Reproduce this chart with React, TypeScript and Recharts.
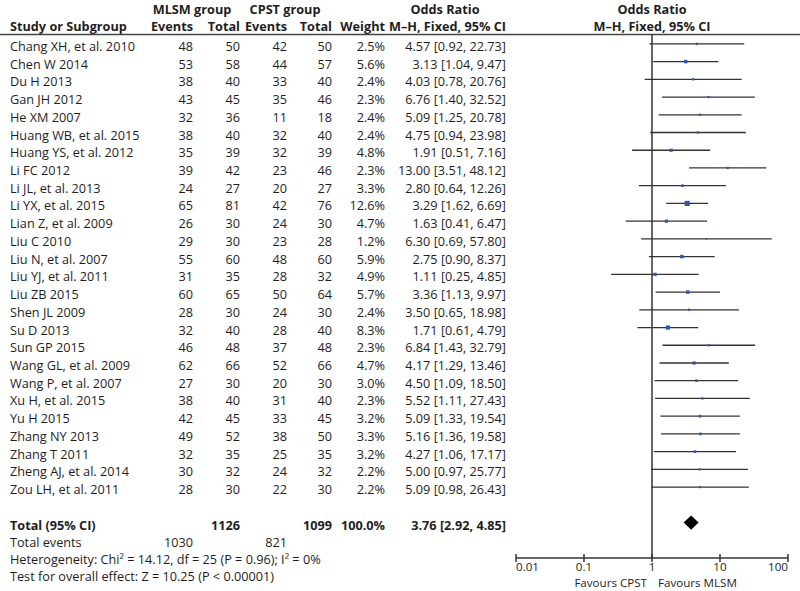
import React from "react";
import { ScatterChart, Scatter, XAxis, YAxis, ErrorBar, ReferenceLine, ReferenceArea } from "recharts";

const FONT = "'Open Sans', 'DejaVu Sans', sans-serif";
const FS = 12.7;
const FS_AXIS = 11.6;
const TXT = "#1e1e1e";

const studies = ["Chang XH, et al. 2010","Chen W 2014","Du H 2013","Gan JH 2012","He XM 2007","Huang WB, et al. 2015","Huang YS, et al. 2012","Li FC 2012","Li JL, et al. 2013","Li YX, et al. 2015","Lian Z, et al. 2009","Liu C 2010","Liu N, et al. 2007","Liu YJ, et al. 2011","Liu ZB 2015","Shen JL 2009","Su D 2013","Sun GP 2015","Wang GL, et al. 2009","Wang P, et al. 2007","Xu H, et al. 2015","Yu H 2015","Zhang NY 2013","Zhang T 2011","Zheng AJ, et al. 2014","Zou LH, et al. 2011"];
const mlsmEvents = [48,53,38,43,32,38,35,39,24,65,26,29,55,31,60,28,32,46,62,27,38,42,49,32,30,28];
const mlsmTotal = [50,58,40,45,36,40,39,42,27,81,30,30,60,35,65,30,40,48,66,30,40,45,52,35,32,30];
const cpstEvents = [42,44,33,35,11,32,32,23,20,42,24,23,48,28,50,24,28,37,52,20,31,33,38,25,24,22];
const cpstTotal = [50,57,40,46,18,40,39,46,27,76,30,28,60,32,64,30,40,48,66,30,40,45,50,35,32,30];
const weights = [2.5,5.6,2.4,2.3,2.4,2.4,4.8,2.3,3.3,12.6,4.7,1.2,5.9,4.9,5.7,2.4,8.3,2.3,4.7,3.0,2.3,3.2,3.3,3.2,2.2,2.2];
const oddsRatio = [4.57,3.13,4.03,6.76,5.09,4.75,1.91,13.00,2.80,3.29,1.63,6.30,2.75,1.11,3.36,3.50,1.71,6.84,4.17,4.50,5.52,5.09,5.16,4.27,5.00,5.09];
const ciLow = [0.92,1.04,0.78,1.40,1.25,0.94,0.51,3.51,0.64,1.62,0.41,0.69,0.90,0.25,1.13,0.65,0.61,1.43,1.29,1.09,1.11,1.33,1.36,1.06,0.97,0.98];
const ciHigh = [22.73,9.47,20.76,32.52,20.78,23.98,7.16,48.12,12.26,6.69,6.47,57.80,8.37,4.85,9.97,18.98,4.79,32.79,13.46,18.50,27.43,19.54,19.58,17.17,25.77,26.43];

const totalLabel = "Total (95% CI)";
const totalMlsmN = 1126;
const totalCpstN = 1099;
const totalWeight = "100.0%";
const totalOR = 3.76;
const totalLow = 2.92;
const totalHigh = 4.85;
const totalMlsmEvents = 1030;
const totalCpstEvents = 821;
const heterogeneityText = "Heterogeneity: Chi\u00b2 = 14.12, df = 25 (P = 0.96); I\u00b2 = 0%";
const overallText = "Test for overall effect: Z = 10.25 (P < 0.00001)";
const xTicks = [0.01, 0.1, 1, 10, 100];
const xTickLabels = ["0.01", "0.1", "1", "10", "100"];

const TOTAL_ROW = studies.length + 2;

const fmt = (v: number) => v.toFixed(2);
const ciText = (o: number, l: number, h: number) => `${fmt(o)} [${fmt(l)}, ${fmt(h)}]`;

const studyData = studies.map((name, i) => ({
  name,
  y: i + 1,
  x: oddsRatio[i],
  w: weights[i],
  err: [oddsRatio[i] - ciLow[i], ciHigh[i] - oddsRatio[i]],
}));

type Row = { name: string; me?: number; mt: number; ce?: number; ct: number; w: string; ci: string; bold?: boolean };
const rows: Record<number, Row> = {};
studies.forEach((name, i) => {
  rows[i + 1] = {
    name,
    me: mlsmEvents[i],
    mt: mlsmTotal[i],
    ce: cpstEvents[i],
    ct: cpstTotal[i],
    w: weights[i].toFixed(1) + "%",
    ci: ciText(oddsRatio[i], ciLow[i], ciHigh[i]),
  };
});
rows[TOTAL_ROW] = { name: totalLabel, mt: totalMlsmN, ct: totalCpstN, w: totalWeight, ci: ciText(totalOR, totalLow, totalHigh), bold: true };
const rowTicks = Object.keys(rows).map(Number);

const COL = { name: 10, me: 193, mt: 240, ce: 287, ct: 332, w: 385, ci: 506 };

const RowTick = (props: any) => {
  const { y, payload } = props;
  const r = rows[payload.value];
  if (!r) return null;
  const ty = y + 7;
  const fw = r.bold ? "bold" : "normal";
  return (
    <g fontFamily={FONT} fontSize={FS} fill={TXT} fontWeight={fw}>
      <text x={COL.name} y={ty}>{r.name}</text>
      {r.me !== undefined && <text x={COL.me} y={ty} textAnchor="end">{r.me}</text>}
      <text x={COL.mt} y={ty} textAnchor="end">{r.mt}</text>
      {r.ce !== undefined && <text x={COL.ce} y={ty} textAnchor="end">{r.ce}</text>}
      <text x={COL.ct} y={ty} textAnchor="end">{r.ct}</text>
      <text x={COL.w} y={ty} textAnchor="end">{r.w}</text>
      <text x={COL.ci} y={ty} textAnchor="end">{r.ci}</text>
    </g>
  );
};

const XTick = (props: any) => {
  const { x, y, payload, index } = props;
  const n = xTicks.length;
  const anchor = index === 0 ? "start" : index === n - 1 ? "end" : "middle";
  const label = xTickLabels[xTicks.indexOf(payload.value)] ?? String(payload.value);
  return (
    <g>
      <line x1={x} x2={x} y1={y - 4} y2={y + 4} stroke="#333" strokeWidth={1.5} />
      <text x={x} y={y + 13} textAnchor={anchor} fontFamily={FONT} fontSize={FS_AXIS} fill={TXT}>{label}</text>
    </g>
  );
};

const Square = (props: any) => {
  const { cx, cy, payload } = props;
  const s = 1.45 * Math.sqrt(payload.w);
  return <rect x={cx - s / 2} y={cy - s / 2} width={s} height={s} fill="#2f52b3" />;
};

const Diamond = (props: any) => {
  const { x, y, width, height } = props;
  const cy = y + height / 2;
  const cx = x + width / 2;
  return <polygon points={`${x},${cy} ${cx},${y} ${x + width},${cy} ${cx},${y + height}`} fill="#000" />;
};

export default function App() {
  const t = (x: number, y: number, s: string, anchor: "start" | "middle" | "end" = "start", bold = false, size = FS) => (
    <text x={x} y={y} textAnchor={anchor} fontWeight={bold ? "bold" : "normal"} fontSize={size}>{s}</text>
  );
  return (
    <div style={{ position: "relative", width: 800, height: 591, background: "#fff" }}>
      <style>{"body{margin:0}"}</style>
      <ScatterChart width={800} height={591} margin={{ top: 35, right: 12, bottom: 0, left: 0 }}>
        <XAxis
          type="number"
          dataKey="x"
          scale="log"
          domain={[0.01, 100]}
          ticks={xTicks}
          allowDataOverflow
          height={33}
          tickSize={0}
          tickMargin={0}
          interval={0}
          axisLine={{ stroke: "#333", strokeWidth: 1.5 }}
          tickLine={false}
          tick={<XTick />}
        />
        <YAxis
          type="number"
          dataKey="y"
          domain={[0.5, 30]}
          reversed
          allowDataOverflow
          ticks={rowTicks}
          interval={0}
          width={516}
          axisLine={false}
          tickLine={false}
          tick={<RowTick />}
        />
        <ReferenceLine x={1} stroke="#333" strokeWidth={1.5} />
        <ReferenceArea x1={totalLow} x2={totalHigh} y1={TOTAL_ROW - 0.4} y2={TOTAL_ROW + 0.4} shape={<Diamond />} fillOpacity={1} />
        <Scatter data={studyData} isAnimationActive={false} shape={<Square />}>
          <ErrorBar dataKey="err" direction="x" width={0} stroke="#333" strokeWidth={1.3} isAnimationActive={false} />
        </Scatter>
      </ScatterChart>
      <svg width={800} height={591} style={{ position: "absolute", left: 0, top: 0, pointerEvents: "none" }}>
        <g fontFamily={FONT} fontSize={FS} fill={TXT}>
          {t(192, 14, "MLSM group", "middle", true)}
          {t(285, 14, "CPST group", "middle", true)}
          {t(445, 14, "Odds Ratio", "middle", true)}
          {t(652, 14, "Odds Ratio", "middle", true)}
          {t(COL.name, 31, "Study or Subgroup", "start", true)}
          {t(COL.me, 31, "Events", "end", true)}
          {t(COL.mt, 31, "Total", "end", true)}
          {t(COL.ce, 31, "Events", "end", true)}
          {t(COL.ct, 31, "Total", "end", true)}
          {t(COL.w, 31, "Weight", "end", true)}
          {t(COL.ci, 31, "M\u2013H, Fixed, 95% CI", "end", true)}
          {t(652, 31, "M\u2013H, Fixed, 95% CI", "middle", true)}
          {t(COL.name, 546.5, "Total events")}
          {t(COL.me, 546.5, String(totalMlsmEvents), "end")}
          {t(COL.ce, 546.5, String(totalCpstEvents), "end")}
          {t(COL.name, 563.5, heterogeneityText)}
          {t(COL.name, 580.5, overallText)}
          {t(647, 587, "Favours CPST", "end", false, FS_AXIS)}
          {t(658, 587, "Favours MLSM", "start", false, FS_AXIS)}
        </g>
        <line x1={0} x2={800} y1={34.5} y2={34.5} stroke="#444" strokeWidth={1.5} />
      </svg>
    </div>
  );
}
